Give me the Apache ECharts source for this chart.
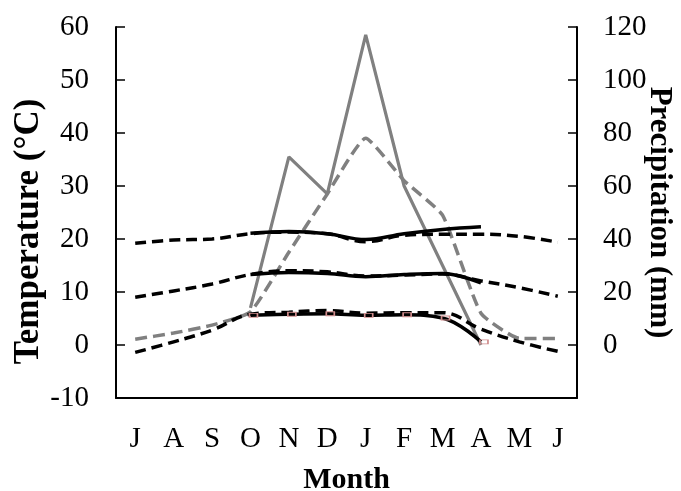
<!DOCTYPE html>
<html lang="en">

<head>
    <meta charset="utf-8">
    <title>Temperature and precipitation</title>
    <style>
        * {
            margin: 0;
            padding: 0;
        }

        #chart-container {
            width: 681px;
            height: 491px;
            background: #fff;
        }
    </style>
</head>

<body>
    <div id="chart-container"></div>
    <script src="https://cdn.jsdelivr.net/npm/echarts@6/dist/echarts.min.js"></script>
    <script>
        // month categories (July -> June)
        var months = ['J', 'A', 'S', 'O', 'N', 'D', 'J', 'F', 'M', 'A', 'M', 'J'];

        // long-term temperatures (dashed black)
        var tmaxLong = [19.2, 19.8, 20.0, 21.0, 21.3, 21.0, 19.5, 20.7, 20.9, 20.9, 20.5, 19.4];
        var tmeanLong = [9.0, 10.2, 11.5, 13.3, 14.0, 13.8, 13.0, 13.2, 13.4, 12.1, 10.8, 9.2];
        var tminLong = [-1.4, 0.6, 2.8, 5.8, 6.2, 6.5, 6.0, 6.1, 6.1, 3.0, 0.6, -1.2];

        // study period temperatures (solid black), Oct -> Apr
        var tmaxStudy = [null, null, null, 21.1, 21.4, 21.0, 19.9, 21.0, 21.8, 22.3, null, null];
        var tmeanStudy = [null, null, null, 13.3, 13.7, 13.5, 12.9, 13.3, 13.5, 11.7, null, null];
        var tminStudy = [null, null, null, 5.6, 5.8, 5.9, 5.6, 5.7, 5.1, 0.6, null, null];

        // precipitation (grey), right axis
        var precipStudy = [null, null, null, 14, 71, 57, 117, 60, 30, 0, null, null];
        var precipLong = [2.2, 4.5, 7.5, 12.5, 35, 57, 78, 62, 49, 12, 2.5, 2.5];

        var serif = 'Liberation Serif';

        var dom = document.getElementById('chart-container');
        var myChart = echarts.init(dom, null, { renderer: 'canvas' });

        function blackLine(name, data, dashed) {
            return {
                name: name,
                type: 'line',
                yAxisIndex: 0,
                data: data,
                smooth: 0.4,
                symbol: 'none',
                lineStyle: {
                    color: '#000',
                    width: 3.5,
                    type: dashed ? [11, 6] : 'solid'
                }
            };
        }

        var option = {
            animation: false,
            grid: {
                left: 116,
                right: 104,
                top: 27,
                bottom: 93,
                containLabel: false,
                outerBoundsMode: 'none'
            },
            xAxis: {
                type: 'category',
                data: months,
                boundaryGap: true,
                name: 'Month',
                nameLocation: 'middle',
                nameGap: 67,
                nameMoveOverlap: false,
                nameTextStyle: {
                    fontFamily: serif,
                    fontWeight: 'bold',
                    fontSize: 30,
                    color: '#000'
                },
                axisLine: { onZero: false, lineStyle: { color: '#000', width: 2 } },
                axisTick: { inside: true, length: 6, lineStyle: { color: '#000', width: 1.5 } },
                axisLabel: {
                    margin: 27,
                    fontFamily: serif,
                    fontSize: 29,
                    color: '#000'
                },
                splitLine: { show: false }
            },
            yAxis: [
                {
                    type: 'value',
                    min: -10,
                    max: 60,
                    interval: 10,
                    name: 'Temperature (°C)',
                    nameLocation: 'middle',
                    nameGap: 70,
                    nameRotate: 90,
                    nameMoveOverlap: false,
                    nameTextStyle: {
                        fontFamily: serif,
                        fontWeight: 'bold',
                        fontSize: 35,
                        color: '#000',
                        padding: [0, 38, 0, 0]
                    },
                    axisLine: { show: true, lineStyle: { color: '#000', width: 2 } },
                    axisTick: { show: true, inside: true, length: 9, lineStyle: { color: '#000', width: 1.5 } },
                    axisLabel: {
                        margin: 27,
                        fontFamily: serif,
                        fontSize: 29,
                        color: '#000'
                    },
                    splitLine: { show: false }
                },
                {
                    type: 'value',
                    min: -20,
                    max: 120,
                    interval: 20,
                    position: 'right',
                    name: 'Precipitation (mm)',
                    nameLocation: 'middle',
                    nameGap: 67,
                    nameRotate: -90,
                    nameMoveOverlap: false,
                    nameTextStyle: {
                        fontFamily: serif,
                        fontWeight: 'bold',
                        fontSize: 31,
                        color: '#000'
                    },
                    axisLine: { show: true, lineStyle: { color: '#000', width: 2 } },
                    axisTick: { show: true, inside: true, length: 9, lineStyle: { color: '#000', width: 1.5 } },
                    axisLabel: {
                        margin: 26,
                        fontFamily: serif,
                        fontSize: 29,
                        color: '#000',
                        formatter: function (v) {
                            return v < 0 ? '' : v;
                        }
                    },
                    splitLine: { show: false }
                }
            ],
            series: [
                {
                    name: 'Precipitation long-term',
                    type: 'line',
                    yAxisIndex: 1,
                    data: precipLong,
                    smooth: 0.15,
                    symbol: 'none',
                    lineStyle: { color: '#808080', width: 3.5, type: [12, 6] }
                },
                {
                    name: 'Precipitation study',
                    type: 'line',
                    yAxisIndex: 1,
                    data: precipStudy,
                    symbol: 'none',
                    lineStyle: { color: '#808080', width: 3.2 }
                },
                blackLine('Tmax long-term', tmaxLong, true),
                blackLine('Tmean long-term', tmeanLong, true),
                blackLine('Tmin long-term', tminLong, true),
                blackLine('Tmax study', tmaxStudy, false),
                blackLine('Tmean study', tmeanStudy, false),
                {
                    name: 'Tmin study',
                    type: 'line',
                    yAxisIndex: 0,
                    data: tminStudy,
                    smooth: 0.4,
                    symbol: 'rect',
                    symbolSize: [8, 4],
                    symbolOffset: [3, 0],
                    showSymbol: true,
                    lineStyle: { color: '#000', width: 3.5 },
                    itemStyle: {
                        color: 'rgba(0,0,0,0)',
                        borderColor: '#d08c8c',
                        borderWidth: 1.2
                    },
                    z: 3
                }
            ]
        };

        if (option && typeof option === 'object') {
            myChart.setOption(option);
        }

        window.addEventListener('resize', myChart.resize);
    </script>
</body>

</html>
